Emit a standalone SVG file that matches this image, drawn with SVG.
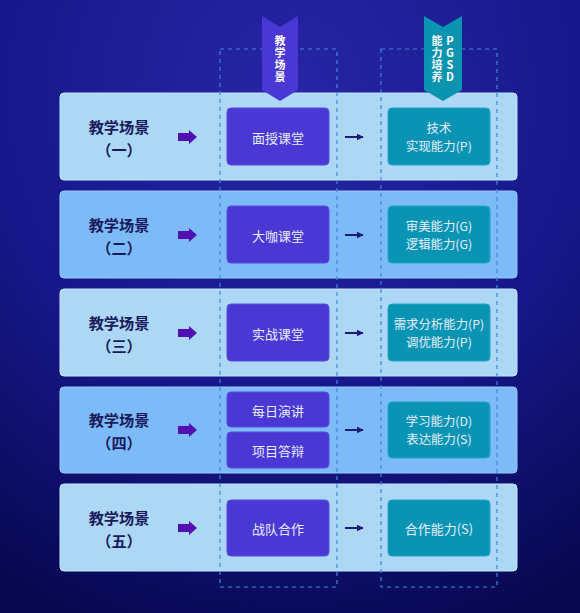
<svg xmlns="http://www.w3.org/2000/svg" width="580" height="613" viewBox="0 0 580 613">
<defs>
<radialGradient id="bg" cx="0.5" cy="0.15" r="0.95">
<stop offset="0" stop-color="#2626a6"/>
<stop offset="0.55" stop-color="#17178a"/>
<stop offset="1" stop-color="#07074e"/>
</radialGradient>
<marker id="ah" viewBox="0 0 10 10" refX="9" refY="5" markerWidth="7" markerHeight="7" markerUnits="userSpaceOnUse" orient="auto">
<path d="M0,0 L10,5 L0,10 z" fill="#1e1a78"/>
</marker>
<style>
.rowA{fill:#acd8f6;stroke:#c4e4fb;stroke-width:1}
.rowB{fill:#7cbaf8;stroke:#98caf9;stroke-width:1}
.lbl{font-family:"Noto Sans CJK SC","Noto Sans",sans-serif;font-size:15.2px;font-weight:bold;fill:#1a1a5c;text-anchor:middle;dominant-baseline:central}
.pbox{fill:#4a38d4;stroke:#5a4ae0;stroke-width:1}
.tbox{fill:#0a94b4;stroke:#22a6c4;stroke-width:1}
.bt{font-family:"Noto Sans CJK SC","Noto Sans",sans-serif;font-size:13px;fill:#e6eefc;text-anchor:middle;dominant-baseline:central}
.bt2{font-family:"Noto Sans CJK SC","Noto Sans",sans-serif;font-size:12.4px;fill:#e6eefc;text-anchor:middle;dominant-baseline:central}
.ban{font-family:"Noto Sans CJK SC","Noto Sans",sans-serif;font-size:11px;font-weight:bold;fill:#ffffff;text-anchor:middle;writing-mode:vertical-rl;text-orientation:upright;letter-spacing:1px}
.dash{fill:none;stroke:#3d88dc;stroke-width:1.2;stroke-dasharray:4 4}
.conn{stroke:#1e1a78;stroke-width:2;fill:none}
.fat{fill:#5210b4}
</style>
</defs>
<rect width="580" height="613" fill="url(#bg)"/>

<g id="rows">
<rect class="rowA" x="60" y="93" width="457" height="87" rx="4"/>
<rect class="rowB" x="60" y="191" width="457" height="87" rx="4"/>
<rect class="rowA" x="60" y="289" width="457" height="87" rx="4"/>
<rect class="rowB" x="60" y="387" width="457" height="86" rx="4"/>
<rect class="rowA" x="60" y="484" width="457" height="87" rx="4"/>
</g>

<g id="columns">
<rect class="dash" x="220" y="49" width="117" height="538"/>
<rect class="dash" x="381" y="49" width="116" height="538"/>
</g>

<g id="banner-scene">
<polygon points="262,16 280,27 298,16 298,90 280,101 262,90" fill="#4a38d4"/>
<text class="ban" x="280" y="59">教学场景</text>
</g>
<g id="banner-pgsd">
<polygon points="424,16 443,27 462,16 462,90 443,101 424,90" fill="#0a94b0"/>
<text class="ban" x="437" y="59">能力培养</text>
<text class="ban" x="450" y="59">PGSD</text>
</g>

<g id="row1">
<text class="lbl" x="119" y="126">教学场景</text>
<text class="lbl" x="119" y="148.5">（一）</text>
<rect class="pbox" x="227" y="108" width="102" height="57" rx="4"/>
<text class="bt" x="278" y="137">面授课堂</text>
<rect class="tbox" x="388" y="108" width="102" height="57" rx="4"/>
<text class="bt2" x="439" y="127.5">技术</text>
<text class="bt2" x="439" y="145.7">实现能力(P)</text>
</g>
<g id="row2">
<text class="lbl" x="119" y="224">教学场景</text>
<text class="lbl" x="119" y="246.5">（二）</text>
<rect class="pbox" x="227" y="206" width="102" height="57" rx="4"/>
<text class="bt" x="278" y="235">大咖课堂</text>
<rect class="tbox" x="388" y="206" width="102" height="57" rx="4"/>
<text class="bt2" x="439" y="225.5">审美能力(G)</text>
<text class="bt2" x="439" y="243.7">逻辑能力(G)</text>
</g>
<g id="row3">
<text class="lbl" x="119" y="322">教学场景</text>
<text class="lbl" x="119" y="344.5">（三）</text>
<rect class="pbox" x="227" y="304" width="102" height="57" rx="4"/>
<text class="bt" x="278" y="333">实战课堂</text>
<rect class="tbox" x="388" y="304" width="102" height="57" rx="4"/>
<text class="bt2" x="439" y="323.5">需求分析能力(P)</text>
<text class="bt2" x="439" y="341.7">调优能力(P)</text>
</g>
<g id="row4">
<text class="lbl" x="119" y="419">教学场景</text>
<text class="lbl" x="119" y="441.5">（四）</text>
<rect class="pbox" x="227" y="392" width="102" height="35" rx="4"/>
<text class="bt" x="278" y="410">每日演讲</text>
<rect class="pbox" x="227" y="432" width="102" height="36" rx="4"/>
<text class="bt" x="278" y="450">项目答辩</text>
<rect class="tbox" x="388" y="402" width="102" height="56" rx="4"/>
<text class="bt2" x="439" y="421">学习能力(D)</text>
<text class="bt2" x="439" y="439.2">表达能力(S)</text>
</g>
<g id="row5">
<text class="lbl" x="119" y="517">教学场景</text>
<text class="lbl" x="119" y="539.5">（五）</text>
<rect class="pbox" x="227" y="500" width="102" height="56" rx="4"/>
<text class="bt" x="278" y="528">战队合作</text>
<rect class="tbox" x="388" y="500" width="102" height="56" rx="4"/>
<text class="bt" x="439" y="528">合作能力(S)</text>
</g>

<g id="connectors">
<polygon class="fat" points="178,133 189,133 189,130 197,137 189,144 189,141 178,141"/>
<polygon class="fat" points="178,231 189,231 189,228 197,235 189,242 189,239 178,239"/>
<polygon class="fat" points="178,329 189,329 189,326 197,333 189,340 189,337 178,337"/>
<polygon class="fat" points="178,426 189,426 189,423 197,430 189,437 189,434 178,434"/>
<polygon class="fat" points="178,524 189,524 189,521 197,528 189,535 189,532 178,532"/>
<line class="conn" x1="345" y1="137" x2="363" y2="137" marker-end="url(#ah)"/>
<line class="conn" x1="345" y1="235" x2="363" y2="235" marker-end="url(#ah)"/>
<line class="conn" x1="345" y1="333" x2="363" y2="333" marker-end="url(#ah)"/>
<line class="conn" x1="345" y1="430" x2="363" y2="430" marker-end="url(#ah)"/>
<line class="conn" x1="345" y1="528" x2="363" y2="528" marker-end="url(#ah)"/>
</g>
</svg>
